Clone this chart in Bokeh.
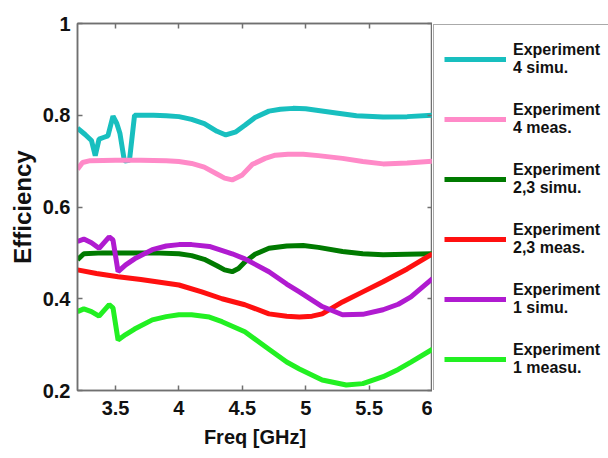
from bokeh.plotting import figure
from bokeh.layouts import row
from bokeh.models import LinearAxis, FixedTicker, Legend, LegendItem, Range1d
from bokeh.embed import file_html
from bokeh.resources import INLINE

# ---------------- data ----------------
x_ticks = [3.5, 4, 4.5, 5, 5.5, 6]
x_tick_labels = ["3.5", "4", "4.5", "5", "5.5", "6"]
y_ticks = [0.2, 0.4, 0.6, 0.8, 1]
y_tick_labels = ["0.2", "0.4", "0.6", "0.8", "1"]

exp4_simu_x = [3.20, 3.26, 3.31, 3.34, 3.37, 3.41, 3.44, 3.48, 3.51, 3.535, 3.57, 3.61, 3.65,
               3.8, 3.9, 4.0, 4.1, 4.2, 4.3, 4.37, 4.45, 4.52, 4.6, 4.71, 4.8, 4.9, 5.0, 5.24, 5.4, 5.61, 5.8, 6.0]
exp4_simu_y = [0.772, 0.758, 0.745, 0.712, 0.748, 0.752, 0.755, 0.798, 0.782, 0.760, 0.700, 0.702, 0.800,
               0.800, 0.799, 0.797, 0.791, 0.782, 0.765, 0.757, 0.764, 0.778, 0.795, 0.809, 0.813, 0.815, 0.814, 0.805, 0.799, 0.796, 0.797, 0.800]

exp4_meas_x = [3.20, 3.24, 3.30, 3.5, 3.7, 3.9, 4.0, 4.1, 4.2, 4.3, 4.36, 4.42, 4.5, 4.58, 4.68, 4.76, 4.86, 4.98, 5.1, 5.29, 5.45, 5.61, 5.8, 6.0]
exp4_meas_y = [0.682, 0.697, 0.701, 0.702, 0.702, 0.701, 0.699, 0.695, 0.687, 0.672, 0.663, 0.659, 0.670, 0.693, 0.706, 0.713, 0.715, 0.715, 0.712, 0.706, 0.699, 0.694, 0.696, 0.700]

exp23_simu_x = [3.20, 3.25, 3.4, 3.6, 3.8, 4.0, 4.1, 4.2, 4.3, 4.36, 4.42, 4.47, 4.52, 4.6, 4.71, 4.85, 4.98, 5.1, 5.29, 5.45, 5.61, 5.8, 6.0]
exp23_simu_y = [0.485, 0.498, 0.500, 0.500, 0.500, 0.498, 0.494, 0.486, 0.472, 0.463, 0.459, 0.466, 0.480, 0.497, 0.510, 0.515, 0.516, 0.512, 0.503, 0.498, 0.496, 0.497, 0.498]

exp23_meas_x = [3.20, 3.35, 3.52, 3.7, 4.0, 4.18, 4.34, 4.52, 4.71, 4.85, 4.95, 5.05, 5.13, 5.29, 5.45, 5.61, 5.8, 6.0]
exp23_meas_y = [0.463, 0.455, 0.448, 0.442, 0.430, 0.415, 0.400, 0.387, 0.367, 0.362, 0.360, 0.362, 0.367, 0.393, 0.415, 0.437, 0.465, 0.498]

exp1_simu_x = [3.20, 3.25, 3.31, 3.37, 3.45, 3.48, 3.52, 3.58, 3.65, 3.79, 3.9, 4.0, 4.1, 4.24, 4.42, 4.52, 4.71, 4.85, 4.95, 5.13, 5.29, 5.45, 5.61, 5.73, 5.83, 6.0]
exp1_simu_y = [0.525, 0.530, 0.522, 0.510, 0.535, 0.528, 0.459, 0.474, 0.487, 0.507, 0.515, 0.518, 0.518, 0.514, 0.498, 0.487, 0.459, 0.432, 0.415, 0.383, 0.365, 0.366, 0.376, 0.388, 0.404, 0.444]

exp1_meas_x = [3.20, 3.25, 3.31, 3.37, 3.45, 3.48, 3.52, 3.58, 3.65, 3.79, 3.9, 4.0, 4.1, 4.24, 4.34, 4.52, 4.71, 4.85, 4.95, 5.13, 5.32, 5.45, 5.61, 5.73, 5.83, 6.0]
exp1_meas_y = [0.372, 0.378, 0.372, 0.362, 0.387, 0.380, 0.310, 0.322, 0.334, 0.354, 0.361, 0.365, 0.365, 0.360, 0.350, 0.328, 0.290, 0.262, 0.247, 0.223, 0.212, 0.215, 0.230, 0.246, 0.262, 0.290]

series = [
    ("Experiment\n4 simu.", exp4_simu_x, exp4_simu_y, "#18BFBF"),
    ("Experiment\n4 meas.", exp4_meas_x, exp4_meas_y, "#FF8AC8"),
    ("Experiment\n2,3 simu.", exp23_simu_x, exp23_simu_y, "#007A00"),
    ("Experiment\n2,3 meas.", exp23_meas_x, exp23_meas_y, "#FF1010"),
    ("Experiment\n1 simu.", exp1_simu_x, exp1_simu_y, "#B01BD0"),
    ("Experiment\n1 measu.", exp1_meas_x, exp1_meas_y, "#22F022"),
]

FONT = "Liberation Sans"
AX_COLOR = "#707070"

p = figure(width=432, height=458, x_range=Range1d(3.2, 6), y_range=Range1d(0.2, 1),
           output_backend="svg", toolbar_location=None,
           min_border_left=77, min_border_right=0, min_border_top=23, min_border_bottom=68)
p.xgrid.visible = False
p.ygrid.visible = False
p.outline_line_color = AX_COLOR
p.outline_line_width = 1.5
p.background_fill_color = "white"
p.border_fill_color = "white"

x_over = {t: l for t, l in zip(x_ticks, x_tick_labels)}
y_over = {t: l for t, l in zip(y_ticks, y_tick_labels)}
x_blank = {t: "" for t in x_ticks}
y_blank = {t: "" for t in y_ticks}


def style_axis(ax, ticks, overrides):
    ax.ticker = FixedTicker(ticks=ticks)
    ax.major_label_overrides = overrides
    ax.minor_tick_line_color = None
    ax.major_tick_in = 5
    ax.major_tick_out = 0
    ax.major_tick_line_color = AX_COLOR
    ax.major_tick_line_width = 1.5
    ax.axis_line_color = AX_COLOR
    ax.axis_line_width = 1.5
    ax.major_label_text_font = FONT
    ax.major_label_text_font_style = "bold"
    ax.major_label_text_color = "#111111"
    ax.major_label_text_font_size = "20px"


style_axis(p.xaxis[0], x_ticks, x_over)
style_axis(p.yaxis[0], y_ticks, y_over)
p.xaxis[0].major_label_standoff = 10
p.yaxis[0].major_label_standoff = 7
p.xaxis[0].axis_label = "Freq [GHz]"
p.yaxis[0].axis_label = "Efficiency"
for ax, size in ((p.xaxis[0], "20px"), (p.yaxis[0], "24px")):
    ax.axis_label_text_font = FONT
    ax.axis_label_text_font_style = "bold"
    ax.axis_label_text_font_size = size
    ax.axis_label_text_color = "#111111"
    ax.axis_label_standoff = 4
p.xaxis[0].axis_label_standoff = 8

top_ax = LinearAxis()
style_axis(top_ax, x_ticks, x_blank)
top_ax.major_label_standoff = 0
p.add_layout(top_ax, "above")
right_ax = LinearAxis()
style_axis(right_ax, y_ticks, y_blank)
right_ax.major_label_standoff = 0
p.add_layout(right_ax, "right")

for label, xs, ys, color in series:
    p.line(xs, ys, line_color=color, line_width=5)

# legend panel: a second figure whose own lines (same data) fall outside its view
lf = figure(width=176, height=458, x_range=Range1d(0, 1), y_range=Range1d(0, 1),
            output_backend="svg", toolbar_location=None,
            x_axis_location=None, y_axis_location=None,
            min_border_left=0, min_border_right=0, min_border_top=21, min_border_bottom=0)
lf.xgrid.visible = False
lf.ygrid.visible = False
lf.outline_line_color = None
lf.background_fill_color = "white"
lf.border_fill_color = "white"

items = []
for label, xs, ys, color in series:
    r = lf.line(xs, ys, line_color=color, line_width=5)
    items.append(LegendItem(label=label, renderers=[r]))

legend = Legend(items=items, location="top_left", orientation="vertical",
                glyph_width=62, glyph_height=48, label_height=48, spacing=12,
                padding=10, margin=1, label_standoff=7,
                label_text_font=FONT, label_text_font_style="bold",
                label_text_font_size="16px", label_text_line_height=1.4,
                label_text_color="#111111",
                border_line_color="#555555", border_line_width=1.5,
                background_fill_color="white", background_fill_alpha=1.0)
lf.add_layout(legend, "center")

layout = row(p, lf)
open("out.html", "w").write(file_html(layout, INLINE))
